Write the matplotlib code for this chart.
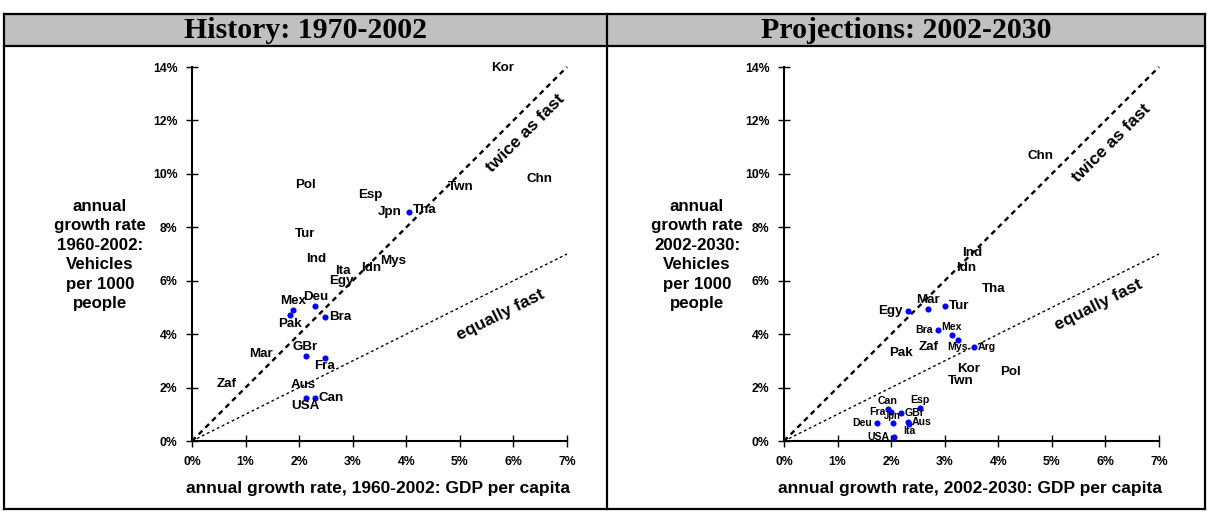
import numpy as np
import matplotlib
matplotlib.use("Agg")
import matplotlib.pyplot as plt
from matplotlib.patches import Rectangle
from matplotlib.lines import Line2D

plt.rcParams['font.family'] = ['Liberation Sans', 'DejaVu Sans']
plt.rcParams['font.weight'] = 'bold'

# ---- History 1960-2002: GDP per capita growth vs vehicle ownership growth (%/yr)
hist_countries = ["Kor", "Pol", "Esp", "Jpn", "Tha", "Twn", "Chn", "Tur", "Ind", "Ita",
                  "Idn", "Mys", "Egy", "Mex", "Deu", "Pak", "Bra", "GBr", "Fra", "Mar",
                  "Zaf", "Aus", "USA", "Can"]
hist_gdp = [5.79, 2.11, 3.33, 4.05, 4.34, 5.01, 6.49, 2.11, 2.31, 2.81,
            3.34, 3.76, 2.79, 1.89, 2.30, 1.83, 2.48, 2.12, 2.48, 1.29,
            0.65, 2.07, 2.12, 2.29]
hist_veh = [13.96, 9.59, 9.19, 8.57, 8.66, 9.52, 9.80, 7.75, 6.80, 6.36,
            6.47, 6.74, 6.00, 4.90, 5.07, 4.71, 4.63, 3.18, 3.12, 3.25,
            2.12, 2.10, 1.61, 1.62]

# ---- Projections 2002-2030
proj_countries = ["Chn", "Ind", "Idn", "Tha", "Mar", "Egy", "Tur", "Bra", "Mex", "Mys",
                  "Arg", "Pak", "Zaf", "Kor", "Twn", "Pol", "Can", "Fra", "GBr", "Esp",
                  "Deu", "Jpn", "Aus", "Ita", "USA"]
proj_gdp = [4.79, 3.52, 3.41, 3.92, 2.68, 2.31, 3.00, 2.88, 3.13, 3.24,
            3.55, 2.18, 2.70, 3.45, 3.30, 4.23, 1.94, 1.99, 2.18, 2.54,
            1.73, 2.03, 2.31, 2.34, 2.06]
proj_veh = [10.67, 7.03, 6.47, 5.68, 4.93, 4.88, 5.04, 4.16, 3.97, 3.78,
            3.52, 3.28, 3.51, 2.70, 2.25, 2.57, 1.21, 1.09, 1.04, 1.24,
            0.69, 0.66, 0.72, 0.62, 0.16]

x_ticks = [0, 1, 2, 3, 4, 5, 6, 7]
y_ticks = [0, 2, 4, 6, 8, 10, 12, 14]

panel_titles = ["History: 1970-2002", "Projections: 2002-2030"]
x_titles = ["annual growth rate, 1960-2002: GDP per capita",
            "annual growth rate, 2002-2030: GDP per capita"]
y_titles = ["annual\ngrowth rate\n1960-2002:\nVehicles\nper 1000\npeople",
            "annual\ngrowth rate\n2002-2030:\nVehicles\nper 1000\npeople"]

# Where the label of a marked country sits relative to its dot
hist_marked = {"Jpn": "left", "Mex": "above", "Deu": "above", "Pak": "below",
               "Bra": "right", "GBr": "above", "Fra": "below", "USA": "below",
               "Can": "right"}
proj_marked = {"Mar": "above", "Egy": "left", "Tur": "right", "Bra": "left",
               "Mex": "above", "Mys": "below", "Arg": "right", "Can": "above",
               "Fra": "left", "GBr": "right", "Esp": "above", "Deu": "left",
               "Jpn": "above", "Aus": "right", "Ita": "below", "USA": "left"}
proj_small = {"Bra", "Mex", "Mys", "Arg", "Can", "Fra", "GBr", "Esp", "Deu",
              "Jpn", "Aus", "Ita", "USA"}

W, H = 1208, 512
fig = plt.figure(figsize=(W / 100, H / 100), dpi=100)


def fx(px):
    return px / W


def fy(py):
    return 1 - py / H


# ---- table frame
frame_lw = 1.6
top, head_bot, bot = 14, 46, 509
left, mid, right = 4, 607, 1205
fig.add_artist(Rectangle((fx(left), fy(head_bot)), fx(right) - fx(left),
                         fy(top) - fy(head_bot), transform=fig.transFigure,
                         facecolor="#c0c0c0", edgecolor="none", zorder=0))
for xs, ys in [([left, right], [top, top]), ([left, right], [head_bot, head_bot]),
               ([left, right], [bot, bot]), ([left, left], [top, bot]),
               ([right, right], [top, bot]), ([mid, mid], [top, bot])]:
    fig.add_artist(Line2D([fx(v) for v in xs], [fy(v) for v in ys],
                          transform=fig.transFigure, color="black", lw=frame_lw))

fig.text(fx((left + mid) / 2), fy(30), panel_titles[0], ha="center", va="center",
         family="Liberation Serif", fontsize=21.5, weight="bold")
fig.text(fx((mid + right) / 2), fy(30), panel_titles[1], ha="center", va="center",
         family="Liberation Serif", fontsize=21.5, weight="bold")

# ---- axes
ax_x0 = [192, 784]
ax_w = 375
ax_top, ax_bot = 67, 441
axes = []
for x0 in ax_x0:
    ax = fig.add_axes([fx(x0), fy(ax_bot), ax_w / W, (ax_bot - ax_top) / H])
    ax.set_xlim(0, 7)
    ax.set_ylim(0, 14)
    ax.patch.set_alpha(0)
    for s in ["top", "right"]:
        ax.spines[s].set_visible(False)
    for s in ["left", "bottom"]:
        ax.spines[s].set_linewidth(1.5)
    ax.set_xticks(x_ticks)
    ax.set_yticks(y_ticks)
    ax.set_xticklabels([f"{v}%" for v in x_ticks])
    ax.set_yticklabels([f"{v}%" for v in y_ticks])
    ax.tick_params(direction="inout", length=8, width=1, labelsize=8.8, pad=6.5)
    for lab in ax.get_xticklabels() + ax.get_yticklabels():
        lab.set_fontweight("bold")
    ax.plot([0, 7], [0, 14], color="black", lw=1.7, ls=(0, (2.2, 1.8)), clip_on=False)
    ax.plot([0, 7], [0, 7], color="black", lw=1.0, ls=(0, (2, 2)), clip_on=False)
    axes.append(ax)


def angle(ax, slope):
    p = ax.transData.transform([[0, 0], [1, slope]])
    d = p[1] - p[0]
    return np.degrees(np.arctan2(d[1], d[0]))


def draw_points(ax, names, xs, ys, marked, small=frozenset()):
    for n, x, y in zip(names, xs, ys):
        fs = 7.6 if n in small else 9.6
        if n == "Jpn" and n in small:
            fs = 6.9
        if n in marked:
            ax.plot(x, y, "o", color="blue", ms=4.4, mec="none", zorder=3)
            pos = marked[n]
            gap_v = 7.5 if n in small else 9
            if pos == "above":
                xy, ha = (0, gap_v), "center"
            elif pos == "below":
                xy, ha = (0, -gap_v + 0.5), "center"
            elif pos == "left":
                xy, ha = (-5 if n != "Jpn" else -7, 0), "right"
            else:
                xy, ha = (4, 0), "left"
            ax.annotate(n, (x, y), xytext=xy, textcoords="offset pixels",
                        ha=ha, va="center", fontsize=fs, weight="bold", zorder=4)
        else:
            ax.text(x, y, n, ha="center", va="center", fontsize=fs,
                    weight="bold", zorder=4)


draw_points(axes[0], hist_countries, hist_gdp, hist_veh, hist_marked)
draw_points(axes[1], proj_countries, proj_gdp, proj_veh, proj_marked, proj_small)

line_labels = [((6.22, 11.52), (5.76, 4.72)), ((6.12, 11.15), (5.87, 5.09))]
for ax, (tw, eq) in zip(axes, line_labels):
    ax.text(*tw, "twice as fast", rotation=angle(ax, 2), ha="center", va="center",
            fontsize=12.5, weight="bold", rotation_mode="anchor")
    ax.text(*eq, "equally fast", rotation=angle(ax, 1), ha="center", va="center",
            fontsize=12.5, weight="bold", rotation_mode="anchor")

# ---- axis titles
for cx, t in zip([100, 697], y_titles):
    fig.text(fx(cx), fy(255), t, ha="center", va="center", multialignment="center",
             fontsize=12.2, weight="bold", linespacing=1.38)
for cx, t in zip([378, 970], x_titles):
    fig.text(fx(cx), fy(488), t, ha="center", va="center", fontsize=12.5, weight="bold")

fig.savefig("out.png", dpi=100)
